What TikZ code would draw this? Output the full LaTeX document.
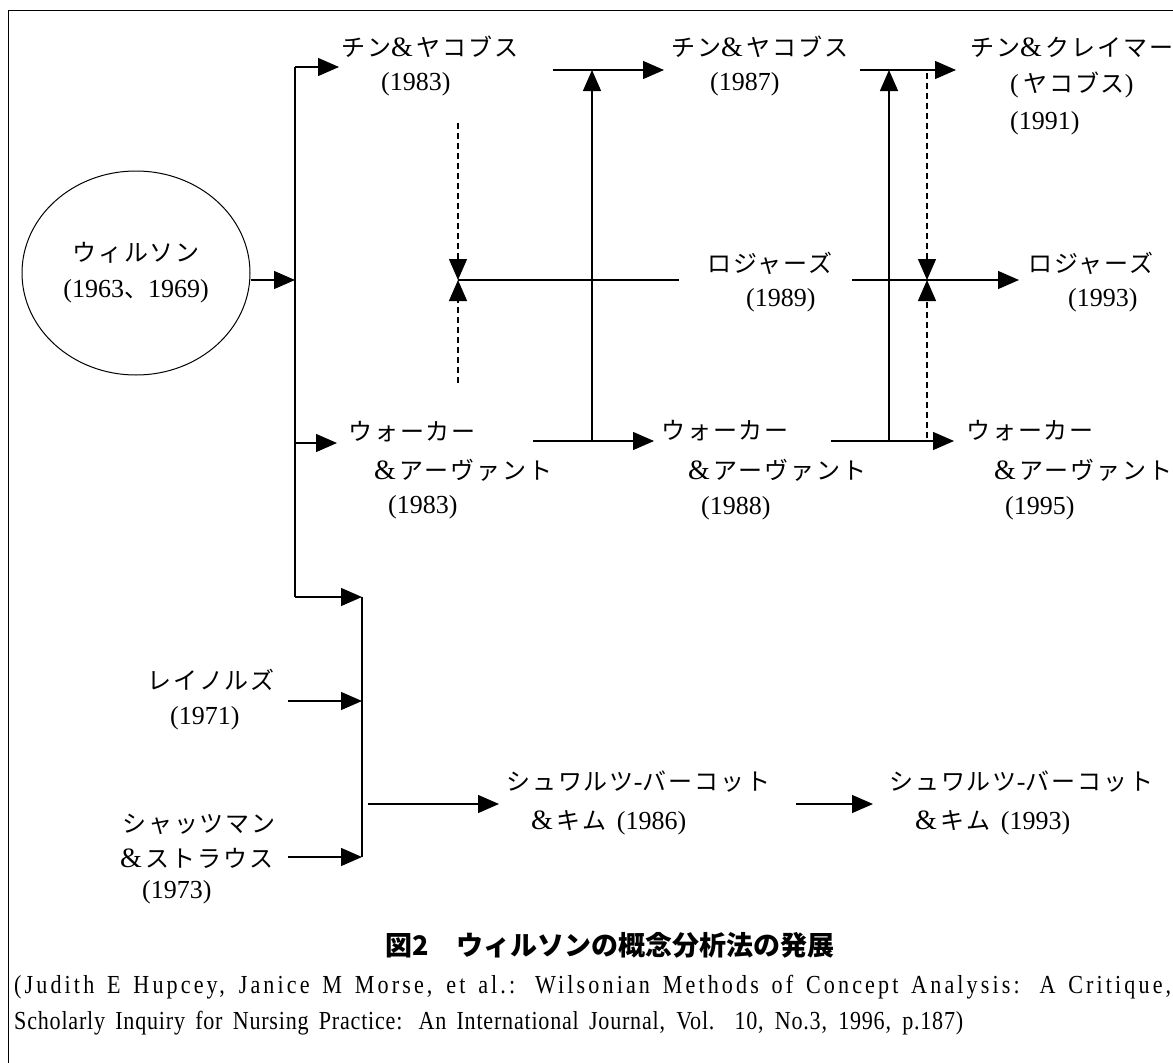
\documentclass[tikz,border=0pt]{standalone}
\usepackage{fontspec}
\setmainfont{Liberation Serif}
\newfontfamily\jpfont[LetterSpace=8]{Noto Sans CJK JP}
\newfontfamily\jpcap{Noto Sans CJK JP}
\newfontfamily\citeA[FakeStretch=0.85,LetterSpace=12]{Liberation Serif}
\newfontfamily\citeB[FakeStretch=0.85,LetterSpace=3]{Liberation Serif}
\usetikzlibrary{arrows.meta,shapes.geometric}
\newcommand\jtext[1]{{\jpfont\fontsize{24}{36}\selectfont #1}}
\newcommand\ampx{{\rmfamily\fontsize{28}{36}\selectfont\&}\hspace{4pt}}
\begin{document}
\begin{tikzpicture}[x=1pt,y=-1pt,
  ln/.style={line width=1.3pt},
  arr/.style={-{Triangle[length=21pt,width=18pt]}},
  dsh/.style={dash pattern=on 6pt off 4pt},
  jt/.style={inner sep=0pt, anchor=west, font=\jpfont\fontsize{24}{36}\selectfont},
  nt/.style={inner sep=0pt, anchor=west, font=\fontsize{26}{36}\selectfont}]
\useasboundingbox (0,0) rectangle (1173,1063);
% frame
\draw[line width=1pt] (1173,10) -- (8,10) -- (8,1063);

% nodes
\node[draw, ellipse, line width=1pt, minimum width=228pt, minimum height=204pt,
      inner sep=0pt, align=center, font=\fontsize{26}{36}\selectfont] (wil) at (136,273)
      {\jtext{ウィルソン}\\(1963\jtext{、}1969)};

\node[jt] (c83a) at (341,47) {チン\ampx ヤコブス};
\node[nt] (c83b) at (381,84) {(1983)};
\node[jt] (c87a) at (671,47) {チン\ampx ヤコブス};
\node[nt] (c87b) at (710,84) {(1987)};
\node[jt] (c91a) at (970,47) {チン\ampx クレイマー};
\node[nt] (c91b) at (1010,85) {(\,\jtext{ヤコブス})};
\node[nt] (c91c) at (1010,123) {(1991)};

\node[jt] (r89a) at (707,263) {ロジャーズ};
\node[nt] (r89b) at (746,300) {(1989)};
\node[jt] (r93a) at (1028,263) {ロジャーズ};
\node[nt] (r93b) at (1068,300) {(1993)};

\node[jt] (w83a) at (348,432) {ウォーカー};
\node[jt] (w83b) at (374,470) {\ampx アーヴァント};
\node[nt] (w83c) at (388,507) {(1983)};
\node[jt] (w88a) at (661,431) {ウォーカー};
\node[jt] (w88b) at (688,470) {\ampx アーヴァント};
\node[nt] (w88c) at (701,508) {(1988)};
\node[jt] (w95a) at (966,431) {ウォーカー};
\node[jt] (w95b) at (994,470) {\ampx アーヴァント};
\node[nt] (w95c) at (1005,508) {(1995)};

\node[jt] (reya) at (147,680) {レイノルズ};
\node[nt] (reyb) at (170,718) {(1971)};
\node[jt] (scha) at (122,824) {シャッツマン};
\node[jt] (schb) at (120,858) {\ampx ストラウス};
\node[nt] (schc) at (142,892) {(1973)};

\node[jt] (s86a) at (506,782) {シュワルツ{\rmfamily\fontsize{26}{36}\selectfont -}バーコット};
\node[nt] (s86b) at (531,823) {\ampx\jtext{キム}\hspace{10pt}(1986)};
\node[jt] (s93a) at (889,782) {シュワルツ{\rmfamily\fontsize{26}{36}\selectfont -}バーコット};
\node[nt] (s93b) at (915,823) {\ampx\jtext{キム}\hspace{10pt}(1993)};

\node[font=\jpcap\bfseries\fontsize{27}{30}\selectfont, inner sep=0pt] (cap) at (610,945)
  {図2　ウィルソンの概念分析法の発展};

\node[anchor=west, inner sep=0pt, font=\citeA\fontsize{26}{28}\selectfont] (cit1) at (14,987)
  {\makebox[1157pt][s]{(Judith E Hupcey, Janice M Morse, et al.: Wilsonian Methods of Concept Analysis: A Critique,}};
\node[anchor=west, inner sep=0pt, font=\citeB\fontsize{26}{28}\selectfont] (cit2) at (14,1023)
  {\makebox[949pt][s]{Scholarly Inquiry for Nursing Practice: An International Journal, Vol. 10, No.3, 1996, p.187)}};

% coordinates
\coordinate (t1) at (295,67);
\coordinate (t2) at (295,280);
\coordinate (t3) at (295,443);
\coordinate (t4) at (295,597);
\coordinate (a1) at (339,67);
\coordinate (a3) at (337,443);
\coordinate (u1) at (362,597);
\coordinate (u2) at (362,701);
\coordinate (u4) at (362,857);
\coordinate (rs) at (288,701);
\coordinate (ss) at (288,857);
\coordinate (s1) at (368,804);
\coordinate (s1t) at (499,804);
\coordinate (s2) at (796,804);
\coordinate (s2t) at (873,804);
\coordinate (h1s) at (553,70);
\coordinate (h1t) at (664,70);
\coordinate (v1b) at (592,441);
\coordinate (v1t) at (592,70);
\coordinate (h2s) at (860,70);
\coordinate (h2t) at (956,70);
\coordinate (v2b) at (889,441);
\coordinate (v2t) at (889,70);
\coordinate (d1a) at (458,123);
\coordinate (d1m) at (458,280);
\coordinate (d1b) at (458,383);
\coordinate (d2a) at (927,73);
\coordinate (d2m) at (927,280);
\coordinate (d2b) at (927,438);
\coordinate (r2) at (679,280);
\coordinate (r3) at (852,280);
\coordinate (r4) at (1019,280);
\coordinate (w1) at (533,441);
\coordinate (w1t) at (654,441);
\coordinate (w2) at (831,441);
\coordinate (w2t) at (954,441);

% connectors
\draw[ln,arr] (wil.east |- t2) -- (t2);
\draw[ln] (t1) -- (t4);
\draw[ln,arr] (t1) -- (a1);
\draw[ln,arr] (t3) -- (a3);
\draw[ln,arr] (t4) -- (u1);
\draw[ln] (u1) -- (u4);
\draw[ln,arr] (rs) -- (u2);
\draw[ln,arr] (ss) -- (u4);
\draw[ln,arr] (s1) -- (s1t);
\draw[ln,arr] (s2) -- (s2t);

\draw[ln,arr] (h1s) -- (h1t);
\draw[ln,arr] (v1b) -- (v1t);
\draw[ln,arr] (h2s) -- (h2t);
\draw[ln,arr] (v2b) -- (v2t);

\draw[ln,dsh,arr] (d1a) -- (d1m);
\draw[ln,dsh,arr] (d1b) -- (d1m);
\draw[ln,dsh,arr] (d2a) -- (d2m);
\draw[ln,dsh,arr] (d2b) -- (d2m);

\draw[ln] (d1m) -- (r2);
\draw[ln,arr] (r3) -- (r4);

\draw[ln,arr] (w1) -- (w1t);
\draw[ln,arr] (w2) -- (w2t);
\end{tikzpicture}
\end{document}
